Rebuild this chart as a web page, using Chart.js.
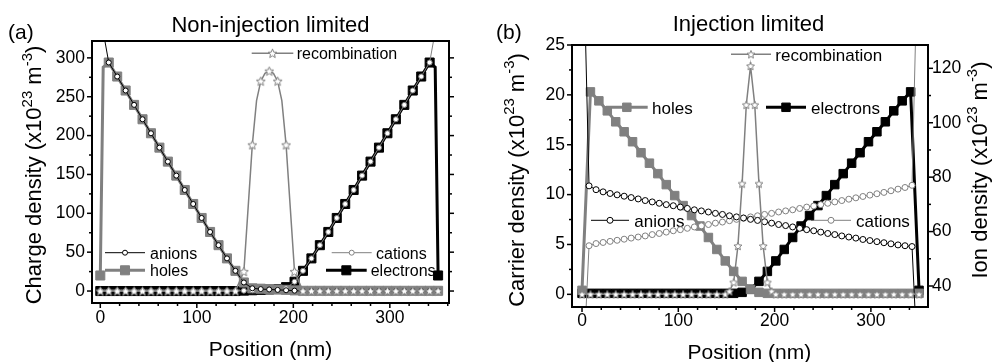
<!DOCTYPE html>
<html>
<head>
<meta charset="utf-8">
<title>Charge density profiles</title>
<script src="https://cdn.jsdelivr.net/npm/chart.js@4.4.1/dist/chart.umd.min.js"></script>
<style>
  html, body { margin: 0; padding: 0; background: #ffffff; }
  #wrap { position: relative; width: 992px; height: 362px; overflow: hidden; background: #ffffff; }
  #wrap canvas { position: absolute; top: 0; }
  #panelA { left: 0; }
  #panelB { left: 496px; }
</style>
</head>
<body>
<div id="wrap">
  <canvas id="panelA" width="496" height="362"></canvas>
  <canvas id="panelB" width="496" height="362"></canvas>
</div>
<script>
const FONT = '"Liberation Sans", Arial, Helvetica, sans-serif';
const GRAY = '#808080';
const BLACK = '#000000';

/* ---------- (a) Non-injection limited: position (nm), density (x10^23 m^-3) ---------- */
const posA = [0, 3, 8.75, 17.5, 26.25, 35, 43.75, 52.5, 61.25, 70, 78.75, 87.5, 96.25, 105, 113.75,
  122.5, 131.25, 140, 148.75, 157.5, 166.25, 175, 183.75, 192.5, 201.25, 210, 218.75, 227.5, 236.25,
  245, 253.75, 262.5, 271.25, 280, 288.75, 297.5, 306.25, 315, 323.75, 332.5, 341.25, 347, 350];
const anionsA = [355, null, 294, 276, 258, 239.5, 221, 203, 184.5, 166.5, 148.5, 130, 112, 94, 76, 59,
  42, 26, 11, 3.5, 2.5, 2, 1.5, 1, 0.5, 0, 0, 0, 0, 0, 0, 0, 0, 0, 0, 0, 0, 0, 0, 0, 0, null, 0];
const holesA = [20, 288, 294, 276, 258, 239.5, 221, 203, 184.5, 166.5, 148.5, 130, 112, 94, 76, 59,
  42, 26, 11, 3.5, 3, 2.5, 2, 1.5, 0.8, 0.3, 0.3, 0.3, 0.3, 0.3, 0.3, 0.3, 0.3, 0.3, 0.3, 0.3, 0.3,
  0.3, 0.3, 0.3, 0.3, null, 0.3];
const cationsA = [0, null, 0, 0, 0, 0, 0, 0, 0, 0, 0, 0, 0, 0, 0, 0, 0, 0, 0.5, 1, 1.5, 2, 2.5, 3.5,
  12, 26, 42, 59, 76, 94, 112, 130, 148.5, 166.5, 184.5, 203, 221, 239.5, 258, 276, 294, null, 355];
const electronsA = [0, null, 0, 0, 0, 0, 0, 0, 0, 0, 0, 0, 0, 0, 0, 0, 0, 0, 0.5, 1, 1.5, 2, 2.5, 5,
  12, 26, 42, 59, 76, 94, 112, 130, 148.5, 166.5, 184.5, 203, 221, 239.5, 258, 276, 294, 288, 20];
const edgeA = [3, 347];

const posRecA = [0, 8.75, 17.5, 26.25, 35, 43.75, 52.5, 61.25, 70, 78.75, 87.5, 96.25, 105, 113.75,
  122.5, 131.25, 140, 148.75, 157.5, 161.9, 166.25, 170.6, 175, 179.4, 183.75, 188.1, 192.5, 201.25,
  210, 218.75, 227.5, 236.25, 245, 253.75, 262.5, 271.25, 280, 288.75, 297.5, 306.25, 315, 323.75,
  332.5, 341.25, 350];
const recombA = [0, 0, 0, 0, 0, 0, 0, 0, 0, 0, 0, 0, 0, 0, 0, 0, 0, 25, 188, 245, 270, 280, 283, 280,
  270, 245, 188, 25, 0, 0, 0, 0, 0, 0, 0, 0, 0, 0, 0, 0, 0, 0, 0, 0, 0];
const recHiddenA = [161.9, 170.6, 179.4, 188.1];

/* ---------- (b) Injection limited ---------- */
const posB = [0, 8.75, 17.5, 26.25, 35, 43.75, 52.5, 61.25, 70, 78.75, 87.5, 96.25, 105, 113.75, 122.5,
  131.25, 140, 148.75, 157.5, 166.25, 175, 183.75, 192.5, 201.25, 210, 218.75, 227.5, 236.25, 245,
  253.75, 262.5, 271.25, 280, 288.75, 297.5, 306.25, 315, 323.75, 332.5, 341.25, 350];
const holesB = [0.4, 20.3, 19.4, 18.4, 17.3, 16.3, 15.3, 14.2, 13.15, 12.1, 11.0, 9.9, 8.9, 7.9, 6.85,
  5.7, 4.5, 3.35, 2.3, 1.3, 0.5, 0.2, 0.1, 0.1, 0.1, 0.1, 0.1, 0.1, 0.1, 0.1, 0.1, 0.1, 0.1, 0.1, 0.1,
  0.1, 0.1, 0.1, 0.1, 0.1, 0.1];
const electronsB = [0.1, 0.1, 0.1, 0.1, 0.1, 0.1, 0.1, 0.1, 0.1, 0.1, 0.1, 0.1, 0.1, 0.1, 0.1, 0.1,
  0.1, 0.1, 0.1, 0.2, 0.5, 1.3, 2.3, 3.35, 4.5, 5.7, 6.85, 7.9, 8.9, 9.9, 11.0, 12.1, 13.15, 14.2,
  15.3, 16.3, 17.3, 18.4, 19.4, 20.3, 0.4];

const posRecB = [0, 8.75, 17.5, 26.25, 35, 43.75, 52.5, 61.25, 70, 78.75, 87.5, 96.25, 105, 113.75,
  122.5, 131.25, 140, 148.75, 153.1, 157.5, 161.9, 166.25, 170.6, 175, 179.4, 183.75, 188.1, 192.5,
  196.9, 201.25, 210, 218.75, 227.5, 236.25, 245, 253.75, 262.5, 271.25, 280, 288.75, 297.5, 306.25,
  315, 323.75, 332.5, 341.25, 350];
const recombB = [0, 0, 0, 0, 0, 0, 0, 0, 0, 0, 0, 0, 0, 0, 0, 0, 0, 0, 0.3, 1.2, 4.85, 11.1, 19.0,
  22.9, 19.0, 11.1, 4.85, 1.2, 0.3, 0, 0, 0, 0, 0, 0, 0, 0, 0, 0, 0, 0, 0, 0, 0, 0, 0, 0];

/* ion densities, right axis (x10^23 m^-3) */
const posIonB = [0, 7.29, 14.58, 21.88, 29.17, 36.46, 43.75, 51.04, 58.33, 65.63, 72.92, 80.21, 87.5,
  94.79, 102.08, 109.38, 116.67, 123.96, 131.25, 138.54, 145.83, 153.13, 160.42, 167.71, 175, 182.29,
  189.58, 196.88, 204.17, 211.46, 218.75, 226.04, 233.33, 240.63, 247.92, 255.21, 262.5, 269.79,
  277.08, 284.38, 291.67, 298.96, 306.25, 313.54, 320.83, 328.13, 335.42, 342.71, 350];
const anionsB = [185, 76.8, 75.4, 74.6, 74.0, 73.5, 73.0, 72.5, 72.0, 71.4, 70.9, 70.4, 69.9, 69.5,
  69.0, 68.5, 68.0, 67.6, 67.2, 66.7, 66.3, 65.8, 65.4, 65.0, 64.5, 64.1, 63.6, 63.1, 62.6, 62.2,
  61.7, 61.2, 60.7, 60.3, 59.8, 59.3, 58.9, 58.4, 58.0, 57.6, 57.1, 56.7, 56.3, 55.9, 55.5, 55.1,
  54.8, 54.5, 0];
const cationsB = [0, 54.8, 55.6, 56.0, 56.4, 56.8, 57.2, 57.6, 58.0, 58.4, 58.9, 59.3, 59.8, 60.3,
  60.7, 61.2, 61.7, 62.1, 62.6, 63.1, 63.5, 64.0, 64.5, 64.9, 65.4, 65.8, 66.3, 66.7, 67.2, 67.6,
  68.0, 68.5, 69.0, 69.4, 69.9, 70.4, 70.9, 71.4, 71.9, 72.4, 72.9, 73.4, 73.9, 74.4, 75.0, 75.6,
  76.2, 77.0, 185];
const ionEndsB = [0, 350];

/* tick labels */
const xTicks = [0, 100, 200, 300];
const yTicksA = [0, 50, 100, 150, 200, 250, 300];
const yTicksB = [0, 5, 10, 15, 20, 25];
const ionTicksB = [40, 60, 80, 100, 120];

/* open five-point star used as a point marker */
function starMarker(size, color) {
  const c = document.createElement('canvas');
  c.width = size; c.height = size;
  const g = c.getContext('2d');
  const cx = size / 2, cy = size / 2 + 0.4, R = size / 2 - 0.8, r = R * 0.45;
  g.beginPath();
  for (let i = 0; i < 10; i++) {
    const ang = -Math.PI / 2 + i * Math.PI / 5;
    const rr = i % 2 ? r : R;
    g.lineTo(cx + rr * Math.cos(ang), cy + rr * Math.sin(ang));
  }
  g.closePath();
  g.fillStyle = '#ffffff';
  g.fill();
  g.lineWidth = 1;
  g.strokeStyle = color;
  g.stroke();
  return c;
}
const starA = starMarker(11, GRAY);
const starB = starMarker(10, GRAY);

function series(label, xs, ys, s) {
  const hidden = s.hidden || [];
  return {
    label: label,
    data: xs.map((x, i) => ({ x: x, y: ys[i] })),
    yAxisID: s.axis || 'y',
    order: s.order,
    borderColor: s.color,
    borderWidth: s.lw,
    pointStyle: s.marker,
    pointRadius: xs.map(x => hidden.includes(x) ? 0 : s.r),
    pointHoverRadius: 0,
    pointBackgroundColor: s.fill,
    pointBorderColor: s.edge,
    pointBorderWidth: s.ew,
    legendRadius: s.r,
    spanGaps: true,
    tension: 0,
    fill: false
  };
}

function axis(o) {
  return {
    type: 'linear',
    position: o.position,
    min: o.min,
    max: o.max,
    afterBuildTicks: s => { s.ticks = o.ticks.map(v => ({ value: v })); },
    afterFit: s => { if (o.position === 'bottom') s.height = o.size; else s.width = o.size; },
    grid: { display: false, drawTicks: false },
    border: { display: false },
    ticks: { color: BLACK, font: { family: FONT, size: 17.5 }, padding: o.pad, maxRotation: 0, autoSkip: false },
    title: { display: false }
  };
}

/* plot frame with outward major / minor tick marks */
function frameAndTicks(sets) {
  return {
    id: 'frameAndTicks',
    afterDraw(chart) {
      const ctx = chart.ctx, a = chart.chartArea;
      ctx.save();
      ctx.strokeStyle = BLACK;
      ctx.lineWidth = 1.5;
      for (const t of sets) {
        const sc = chart.scales[t.scale];
        const start = Math.ceil(sc.min / t.minor - 1e-9) * t.minor;
        for (let v = start; v <= sc.max + 1e-9; v += t.minor) {
          const isMajor = Math.abs(v / t.major - Math.round(v / t.major)) < 1e-6;
          const len = isMajor ? 5 : 3;
          const p = sc.getPixelForValue(v);
          ctx.beginPath();
          if (t.side === 'bottom') { ctx.moveTo(p, a.bottom); ctx.lineTo(p, a.bottom + len); }
          else if (t.side === 'left') { ctx.moveTo(a.left, p); ctx.lineTo(a.left - len, p); }
          else { ctx.moveTo(a.right, p); ctx.lineTo(a.right + len, p); }
          ctx.stroke();
        }
      }
      ctx.lineWidth = 2;
      ctx.strokeRect(a.left, a.top, a.right - a.left, a.bottom - a.top);
      ctx.restore();
    }
  };
}

function richWidth(ctx, parts, size) {
  let w = 0;
  for (const [t, sup] of parts) {
    ctx.font = (sup ? size * 0.68 : size) + 'px ' + FONT;
    w += ctx.measureText(t).width;
  }
  return w;
}
function richDraw(ctx, parts, x, y, size) {
  let cx = x;
  for (const [t, sup] of parts) {
    ctx.font = (sup ? size * 0.68 : size) + 'px ' + FONT;
    ctx.fillText(t, cx, sup ? y - size * 0.42 : y);
    cx += ctx.measureText(t).width;
  }
}

function drawMarker(ctx, ds, x, y) {
  const st = ds.pointStyle;
  if (st instanceof HTMLCanvasElement) {
    ctx.drawImage(st, x - st.width / 2, y - st.height / 2);
    return;
  }
  const r = ds.legendRadius;
  ctx.fillStyle = ds.pointBackgroundColor;
  ctx.strokeStyle = ds.pointBorderColor;
  ctx.lineWidth = ds.pointBorderWidth;
  ctx.beginPath();
  if (st === 'rect') { const s = r * Math.SQRT1_2; ctx.rect(x - s, y - s, 2 * s, 2 * s); }
  else ctx.arc(x, y, r, 0, Math.PI * 2);
  ctx.fill();
  ctx.stroke();
}

/* titles, axis labels and the in-plot legend */
function panelText(spec) {
  return {
    id: 'panelText',
    beforeDatasetsDraw(chart) {
      const ctx = chart.ctx;
      ctx.save();
      for (const item of spec.legend) {
        const ds = chart.data.datasets[item.ds];
        ctx.strokeStyle = ds.borderColor;
        ctx.lineWidth = ds.borderWidth;
        ctx.beginPath();
        ctx.moveTo(item.x1, item.y);
        ctx.lineTo(item.x2, item.y);
        ctx.stroke();
        drawMarker(ctx, ds, (item.x1 + item.x2) / 2, item.y);
        ctx.fillStyle = BLACK;
        ctx.textAlign = 'left';
        ctx.textBaseline = 'alphabetic';
        ctx.font = spec.legendSize + 'px ' + FONT;
        ctx.fillText(ds.label, item.tx, item.y + spec.legendSize * 0.38);
      }
      ctx.restore();
    },
    afterDraw(chart) {
      const ctx = chart.ctx;
      ctx.save();
      ctx.fillStyle = BLACK;
      ctx.textBaseline = 'alphabetic';
      ctx.textAlign = 'left';
      ctx.font = spec.tag.size + 'px ' + FONT;
      ctx.fillText(spec.tag.text, spec.tag.x, spec.tag.y);
      ctx.textAlign = 'center';
      ctx.font = spec.title.size + 'px ' + FONT;
      ctx.fillText(spec.title.text, spec.title.x, spec.title.y);
      ctx.textAlign = 'left';
      const xt = spec.xTitle;
      const xw = richWidth(ctx, xt.parts, xt.size);
      richDraw(ctx, xt.parts, xt.x - xw / 2, xt.y, xt.size);
      for (const yt of spec.yTitles) {
        ctx.save();
        ctx.translate(yt.x, yt.y);
        ctx.rotate(-Math.PI / 2);
        const w = richWidth(ctx, yt.parts, yt.size);
        richDraw(ctx, yt.parts, -w / 2, 0, yt.size);
        ctx.restore();
      }
      ctx.restore();
    }
  };
}

function makePanel(id, cfg) {
  return new Chart(document.getElementById(id), {
    type: 'line',
    data: { datasets: cfg.datasets },
    options: {
      responsive: false,
      animation: false,
      events: [],
      layout: { padding: cfg.padding },
      plugins: { legend: { display: false }, tooltip: { enabled: false } },
      scales: cfg.scales
    },
    plugins: [frameAndTicks(cfg.marks), panelText(cfg.text)]
  });
}

const unitParts = (name) => [[name + ' (x10'], ['23', true], [' m'], ['-3', true], [')']];

/* ---------- panel (a) ---------- */
makePanel('panelA', {
  padding: { top: 41, right: 47, bottom: 0, left: 0 },
  datasets: [
    series('recombination', posRecA, recombA, { order: 0, color: GRAY, lw: 1.5, marker: starA, r: 4.5, hidden: recHiddenA }),
    series('anions', posA, anionsA, { order: 1, color: BLACK, lw: 1, marker: 'circle', r: 2.5, fill: '#ffffff', edge: BLACK, ew: 1, hidden: edgeA }),
    series('cations', posA, cationsA, { order: 2, color: GRAY, lw: 1, marker: 'circle', r: 2.5, fill: '#ffffff', edge: GRAY, ew: 1, hidden: edgeA }),
    series('holes', posA, holesA, { order: 3, color: GRAY, lw: 3, marker: 'rect', r: 6.4, fill: GRAY, edge: GRAY, ew: 1, hidden: edgeA }),
    series('electrons', posA, electronsA, { order: 4, color: BLACK, lw: 3, marker: 'rect', r: 6.4, fill: BLACK, edge: BLACK, ew: 1, hidden: edgeA })
  ],
  scales: {
    x: axis({ position: 'bottom', min: -8.6, max: 361.3, ticks: xTicks, size: 59, pad: 5 }),
    y: axis({ position: 'left', min: -15.4, max: 321.7, ticks: yTicksA, size: 92, pad: 7 })
  },
  marks: [
    { scale: 'x', side: 'bottom', major: 100, minor: 20 },
    { scale: 'y', side: 'left', major: 50, minor: 25 },
    { scale: 'y', side: 'right', major: 50, minor: 25 }
  ],
  text: {
    tag: { text: '(a)', x: 8, y: 39, size: 21 },
    title: { text: 'Non-injection limited', x: 270.5, y: 31.5, size: 22 },
    xTitle: { parts: [['Position (nm)']], x: 270.5, y: 356, size: 21 },
    yTitles: [{ parts: unitParts('Charge density'), x: 41, y: 175, size: 22 }],
    legendSize: 16,
    legend: [
      { ds: 0, x1: 251.7, x2: 293.3, y: 53.3, tx: 296.7 },
      { ds: 1, x1: 105, x2: 145, y: 252.7, tx: 150 },
      { ds: 3, x1: 105, x2: 145, y: 270.3, tx: 150 },
      { ds: 2, x1: 331.7, x2: 371.7, y: 252.7, tx: 376 },
      { ds: 4, x1: 326, x2: 366.7, y: 270.3, tx: 370.7 }
    ]
  }
});

/* ---------- panel (b) ---------- */
makePanel('panelB', {
  padding: { top: 45, right: 0, bottom: 0, left: 0 },
  datasets: [
    series('recombination', posRecB, recombB, { order: 0, color: GRAY, lw: 1.5, marker: starB, r: 4.5 }),
    series('anions', posIonB, anionsB, { axis: 'y2', order: 1, color: BLACK, lw: 1, marker: 'circle', r: 3, fill: '#ffffff', edge: BLACK, ew: 1, hidden: ionEndsB }),
    series('cations', posIonB, cationsB, { axis: 'y2', order: 2, color: GRAY, lw: 1, marker: 'circle', r: 3, fill: '#ffffff', edge: GRAY, ew: 1, hidden: ionEndsB }),
    series('holes', posB, holesB, { order: 3, color: GRAY, lw: 3, marker: 'rect', r: 6, fill: GRAY, edge: GRAY, ew: 1 }),
    series('electrons', posB, electronsB, { order: 4, color: BLACK, lw: 3, marker: 'rect', r: 6, fill: BLACK, edge: BLACK, ew: 1 })
  ],
  scales: {
    x: axis({ position: 'bottom', min: -10.4, max: 359.3, ticks: xTicks, size: 55, pad: 4 }),
    y: axis({ position: 'left', min: -1.27, max: 25, ticks: yTicksB, size: 76, pad: 7 }),
    y2: axis({ position: 'right', min: 32.28, max: 128.57, ticks: ionTicksB, size: 64, pad: 4 })
  },
  marks: [
    { scale: 'x', side: 'bottom', major: 100, minor: 20 },
    { scale: 'y', side: 'left', major: 5, minor: 2.5 },
    { scale: 'y2', side: 'right', major: 20, minor: 10 }
  ],
  text: {
    tag: { text: '(b)', x: 0, y: 38.7, size: 21 },
    title: { text: 'Injection limited', x: 252.5, y: 30.7, size: 22 },
    xTitle: { parts: [['Position (nm)']], x: 253.3, y: 359, size: 21 },
    yTitles: [
      { parts: unitParts('Carrier density'), x: 27.5, y: 180, size: 22 },
      { parts: unitParts('Ion density'), x: 490.5, y: 170, size: 22 }
    ],
    legendSize: 17,
    legend: [
      { ds: 0, x1: 235, x2: 275, y: 54.3, tx: 279.3 },
      { ds: 3, x1: 110, x2: 151.7, y: 107.3, tx: 156 },
      { ds: 4, x1: 270, x2: 310, y: 107.3, tx: 315 },
      { ds: 1, x1: 95, x2: 133, y: 220.3, tx: 138.3 },
      { ds: 2, x1: 315, x2: 355, y: 220.3, tx: 360 }
    ]
  }
});
</script>
</body>
</html>
